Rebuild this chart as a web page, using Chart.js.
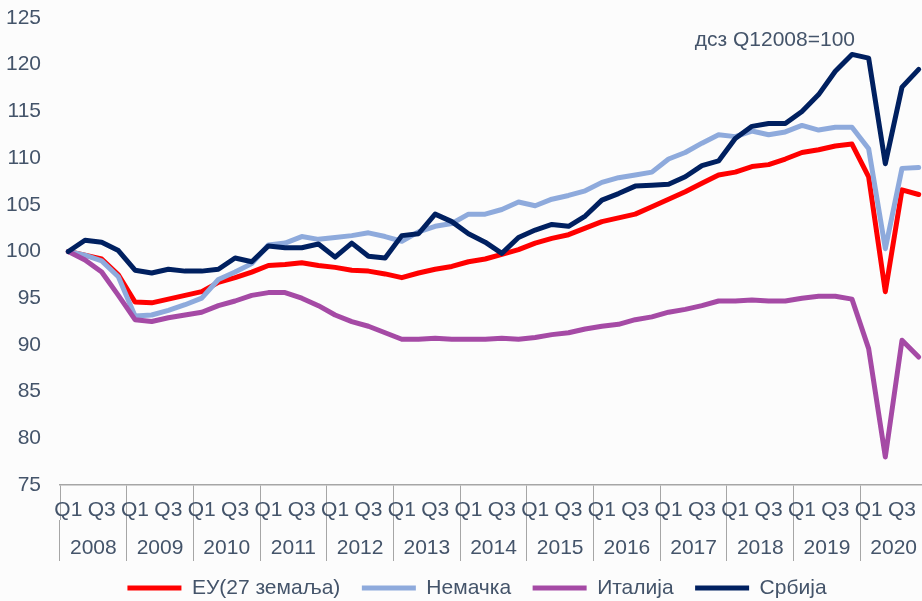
<!DOCTYPE html>
<html>
<head>
<meta charset="utf-8">
<title>БДП индекс</title>
<script src="https://cdn.jsdelivr.net/npm/chart.js@4"></script>
<style>
  html, body { margin: 0; padding: 0; background: #fcfcfc; overflow: hidden; }
  #wrap { width: 950px; height: 601px; }
</style>
</head>
<body>
<div id="wrap"><canvas id="chart" width="950" height="601"></canvas></div>
<script>
// quarterly index, Q1 2008 = 100
const years = ['2008', '2009', '2010', '2011', '2012', '2013', '2014',
               '2015', '2016', '2017', '2018', '2019', '2020'];
const quarterNames = ['Q1', 'Q2', 'Q3', 'Q4'];
const yTicks = { min: 75, max: 125, step: 5 };
const note = 'дсз Q12008=100';

const eu27 = [100, 99.6, 99.2, 97.5, 94.6, 94.5, 94.9, 95.3, 95.7, 96.7, 97.2, 97.8,
              98.5, 98.6, 98.8, 98.5, 98.3, 98.0, 97.9, 97.6, 97.2, 97.7, 98.1, 98.4,
              98.9, 99.2, 99.7, 100.2, 100.9, 101.4, 101.8, 102.5, 103.2, 103.6, 104.0, 104.8,
              105.6, 106.4, 107.3, 108.2, 108.5, 109.1, 109.3, 109.9, 110.6, 110.9, 111.3, 111.5,
              108.0, 95.7, 106.6, 106.1];
const germany = [100, 99.6, 99.0, 97.3, 93.1, 93.2, 93.7, 94.3, 95.0, 97.0, 97.8, 98.7,
                 100.7, 100.9, 101.6, 101.3, 101.5, 101.7, 102.0, 101.6, 101.1, 102.1, 102.7, 103.0,
                 104.0, 104.0, 104.5, 105.3, 104.9, 105.6, 106.0, 106.5, 107.4, 107.9, 108.2, 108.5,
                 109.9, 110.6, 111.6, 112.5, 112.3, 112.9, 112.5, 112.8, 113.5, 113.0, 113.3, 113.3,
                 111.0, 100.3, 108.9, 109.0];
const italy = [100, 99.1, 97.8, 95.3, 92.7, 92.5, 92.9, 93.2, 93.5, 94.2, 94.7, 95.3,
               95.6, 95.6, 95.0, 94.2, 93.2, 92.5, 92.0, 91.3, 90.6, 90.6, 90.7, 90.6,
               90.6, 90.6, 90.7, 90.6, 90.8, 91.1, 91.3, 91.7, 92.0, 92.2, 92.7, 93.0,
               93.5, 93.8, 94.2, 94.7, 94.7, 94.8, 94.7, 94.7, 95.0, 95.2, 95.2, 94.9,
               89.6, 78.0, 90.5, 88.7];
const serbia = [100, 101.2, 101.0, 100.1, 98.0, 97.7, 98.1, 97.9, 97.9, 98.1, 99.3, 98.9,
                100.6, 100.4, 100.4, 100.8, 99.4, 100.9, 99.5, 99.3, 101.7, 101.9, 104.0, 103.2,
                101.9, 101.0, 99.8, 101.5, 102.3, 102.9, 102.7, 103.8, 105.5, 106.2, 107.0, 107.1,
                107.2, 108.0, 109.2, 109.7, 112.1, 113.4, 113.7, 113.7, 115.0, 116.8, 119.3, 121.1,
                120.7, 109.4, 117.6, 119.5];

const quarters = [];
years.forEach(() => quarterNames.forEach(q => quarters.push(q)));

const textColor = '#44546A';
const axisGray = '#a6a6a6';
const fontFamily = '"Liberation Sans", Arial, sans-serif';
Chart.defaults.font.family = fontFamily;
Chart.defaults.font.size = 21;
Chart.defaults.color = textColor;

function series(label, data, color, order) {
  return {
    label, data, order,
    borderColor: color,
    backgroundColor: color,
    borderWidth: 5,
    borderCapStyle: 'round',
    borderJoinStyle: 'round',
    pointRadius: 0,
    pointHoverRadius: 0,
    tension: 0,
    fill: false
  };
}

// small text in the upper right of the plot
const notePlugin = {
  id: 'note',
  beforeDatasetsDraw(chart) {
    const { ctx, chartArea } = chart;
    ctx.save();
    ctx.font = '21px ' + fontFamily;
    ctx.fillStyle = textColor;
    ctx.textAlign = 'right';
    ctx.textBaseline = 'middle';
    ctx.fillText(note, chartArea.right - 72, chartArea.top + 22);
    ctx.restore();
  }
};

new Chart(document.getElementById('chart'), {
  type: 'line',
  data: {
    labels: quarters,
    datasets: [
      series('ЕУ(27 земаља)', eu27, '#ff0000', 4),
      series('Немачка', germany, '#8eaadc', 3),
      series('Италија', italy, '#a54aa5', 2),
      series('Србија', serbia, '#002060', 1)
    ]
  },
  options: {
    responsive: false,
    animation: false,
    layout: { padding: { top: 18, left: 4, right: 0, bottom: 0 } },
    scales: {
      // quarter row; its tick marks start the year separators
      x: {
        offset: true,
        grid: {
          display: true,
          drawOnChartArea: false,
          offset: true,
          tickLength: 35,
          lineWidth: 1,
          color: ctx => (ctx.index % 4 === 0 ? axisGray : 'rgba(0,0,0,0)')
        },
        border: { display: true, color: axisGray, width: 1.5 },
        ticks: {
          autoSkip: false,
          maxRotation: 0,
          minRotation: 0,
          padding: -22.6,
          color: textColor,
          callback: function (val, i) {
            return i % 2 === 0 ? this.getLabelForValue(val) : '';
          }
        },
        afterFit: scale => { scale.height = 35; }
      },
      // year row under the quarters
      years: {
        type: 'category',
        position: 'bottom',
        labels: years,
        offset: true,
        grid: {
          display: true,
          drawOnChartArea: false,
          offset: true,
          tickLength: 41,
          lineWidth: 1,
          color: axisGray
        },
        border: { display: false },
        ticks: { autoSkip: false, maxRotation: 0, padding: -25.6, color: textColor },
        afterFit: scale => { scale.height = 36; }
      },
      y: {
        min: yTicks.min,
        max: yTicks.max,
        grid: { display: false, drawTicks: false },
        border: { display: false },
        ticks: { stepSize: yTicks.step, padding: 19, color: textColor },
        afterFit: scale => {
          scale.width = 56;
          scale.paddingTop = 12.6;
          scale.paddingBottom = 12.6;
        }
      },
      // empty strip to the right of the plot, past the visible edge
      spacer: {
        type: 'linear',
        position: 'right',
        grid: { display: false, drawTicks: false },
        border: { display: false },
        ticks: { display: false },
        afterFit: scale => { scale.width = 23; }
      }
    },
    plugins: {
      tooltip: { enabled: false },
      legend: {
        position: 'bottom',
        maxHeight: 45,
        labels: {
          usePointStyle: true,
          pointStyle: 'line',
          pointStyleWidth: 54,
          padding: 21.5,
          color: textColor,
          sort: (a, b) => a.datasetIndex - b.datasetIndex
        }
      }
    }
  },
  plugins: [notePlugin]
});
</script>
</body>
</html>
